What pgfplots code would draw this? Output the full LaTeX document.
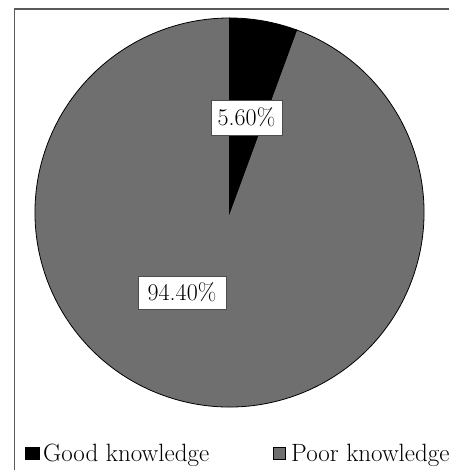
\documentclass[border=0pt]{standalone}
\usepackage{fontspec}
\usepackage{pgfplots}
\usepackage{pgfplotstable}
\pgfplotsset{compat=1.18}

\definecolor{slicegray}{RGB}{111,111,111}
\definecolor{framegray}{RGB}{90,90,90}

% share of respondents by knowledge level (percent)
\pgfplotstableread{
group value
Good 5.60
Poor 94.40
}\sharetable

\begin{document}
\begin{tikzpicture}
\pgfplotstablegetelem{0}{value}\of\sharetable \let\goodval\pgfplotsretval
\pgfplotstablegetelem{1}{value}\of\sharetable \let\poorval\pgfplotsretval
% slices run clockwise from twelve o'clock
\pgfmathsetmacro{\splitangle}{90-3.6*\goodval}
\pgfmathsetmacro{\endangle}{\splitangle-3.6*\poorval}
\def\cx{229.5}\def\cy{257.5}\def\rad{194.5}
\begin{axis}[
  name=ax,
  x=1pt, y=1pt,
  xmin=0, xmax=449, ymin=0, ymax=470,
  scale only axis,
  hide axis,
  clip=false,
  /pgf/number format/assume math mode=true,
]
% frame of the chart area
\draw[framegray, line width=1.6pt] (axis cs:449,461) -- (axis cs:14.5,461) -- (axis cs:14.5,0);

% pie slices
\filldraw[fill=slicegray, draw=black, line width=0.8pt]
  (axis cs:\cx,\cy) -- ++(\splitangle:\rad pt)
  arc[start angle=\splitangle, end angle=\endangle, radius=\rad pt] -- cycle;
\filldraw[fill=black, draw=black, line width=0.8pt]
  (axis cs:\cx,\cy) -- ++(90:\rad pt)
  arc[start angle=90, end angle=\splitangle, radius=\rad pt] -- cycle;

% value labels
\node[fill=white, draw=black!70, line width=0.5pt, minimum width=71pt, minimum height=35pt, inner sep=0pt,
      font=\fontsize{24}{28}\selectfont]
  at (axis cs:246.5,352.5) {\pgfmathprintnumber[fixed, fixed zerofill, precision=2]{\goodval}\%};
\node[fill=white, draw=black!70, line width=0.5pt, minimum width=88pt, minimum height=33pt, inner sep=0pt,
      font=\fontsize{24}{28}\selectfont]
  at (axis cs:182,177.5) {\pgfmathprintnumber[fixed, fixed zerofill, precision=2]{\poorval}\%};

% legend
\filldraw[fill=black, draw=black, line width=0.5pt] (axis cs:25.5,10.5) rectangle (axis cs:39,23);
\node[anchor=base west, inner sep=0pt, font=\fontsize{25}{29}\selectfont] at (axis cs:43,9) {Good knowledge};
\filldraw[fill=slicegray, draw=black, line width=0.6pt] (axis cs:273.5,10.5) rectangle (axis cs:285.5,22.5);
\node[anchor=base west, inner sep=0pt, font=\fontsize{25}{29}\selectfont] at (axis cs:291,9) {Poor knowledge};
\end{axis}
\pgfresetboundingbox
\path (ax.south west) rectangle (ax.north east);
\end{tikzpicture}
\end{document}
